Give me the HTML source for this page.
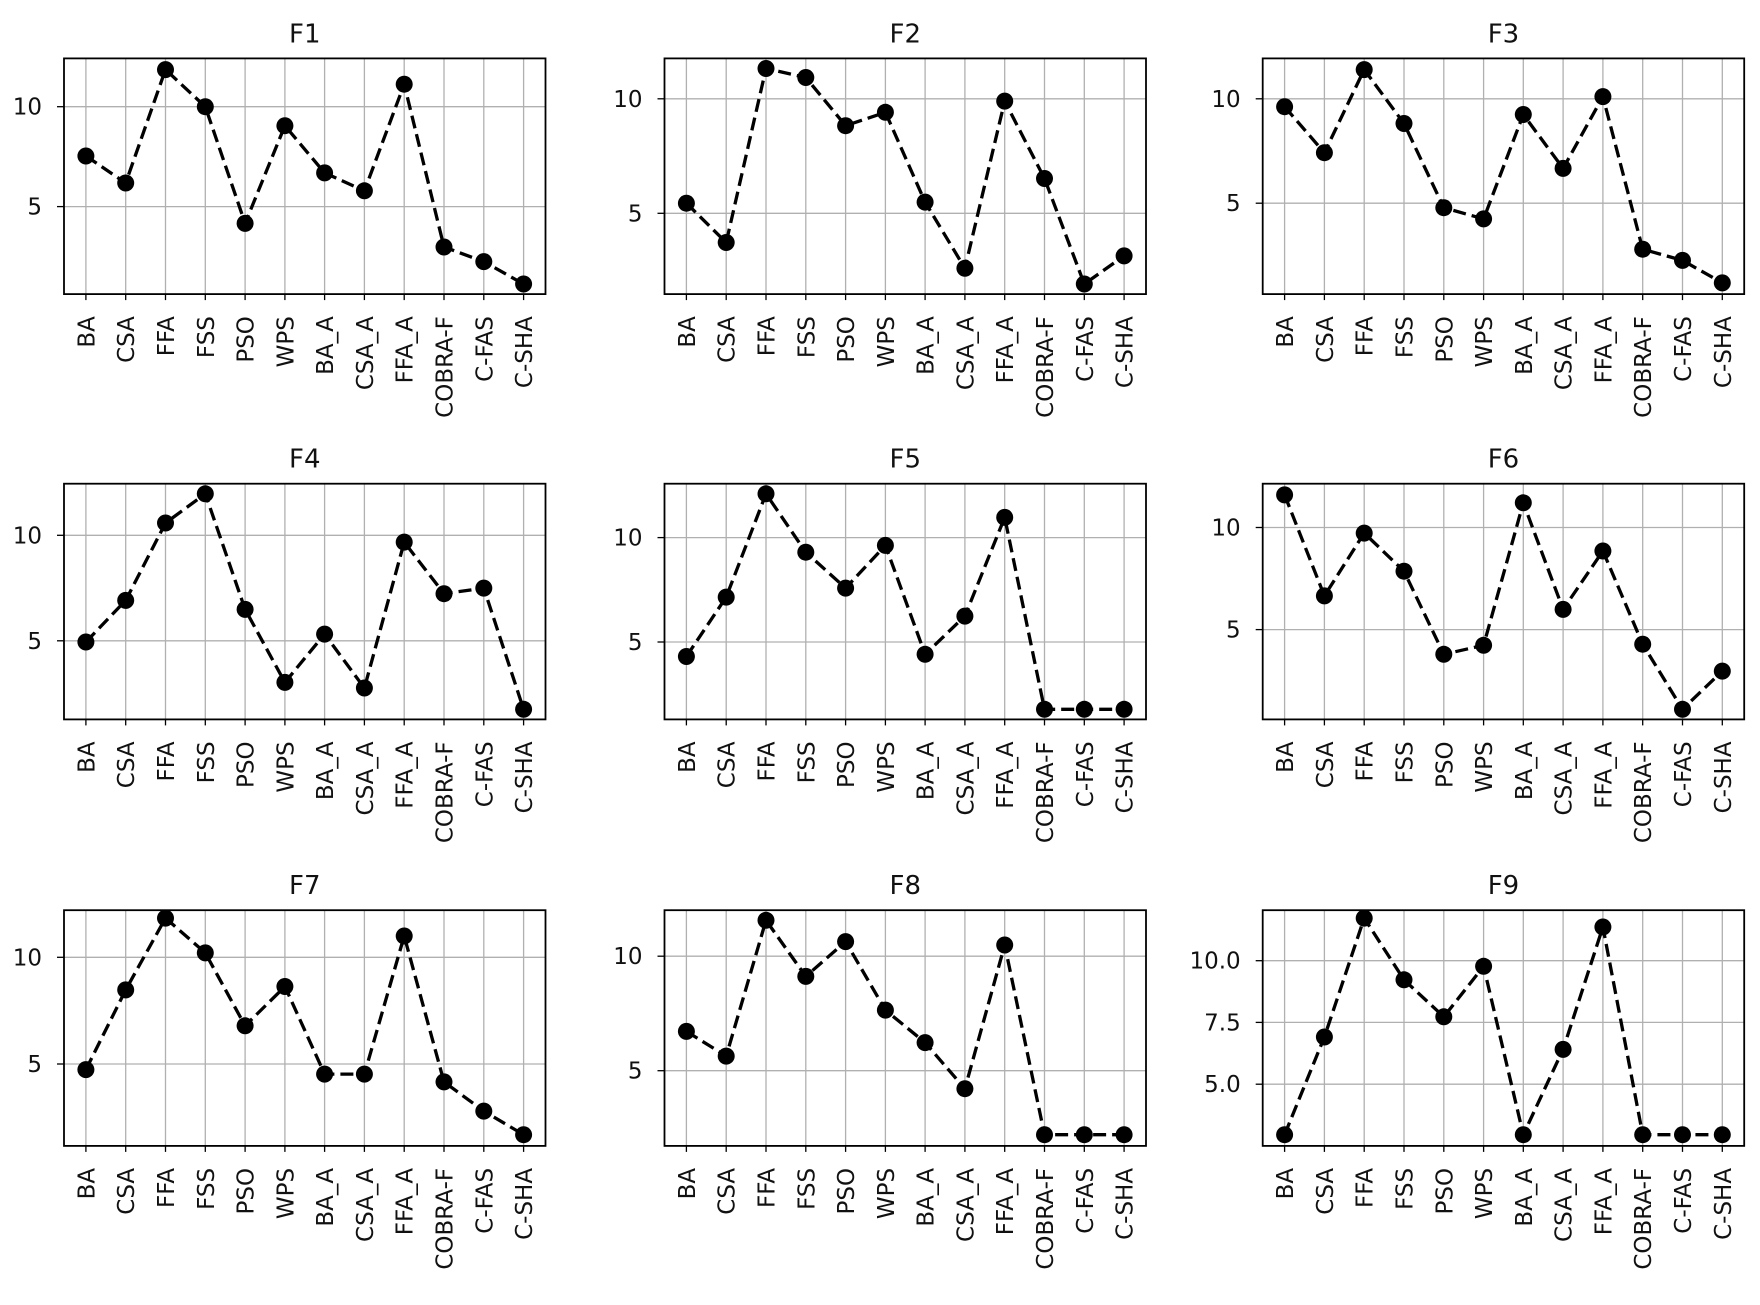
<!DOCTYPE html>
<html><head><meta charset="utf-8"><style>
html,body{margin:0;padding:0;background:#fff;}
svg{display:block;font-family:"DejaVu Sans","Liberation Sans",sans-serif;}
</style></head><body>
<svg id="s" width="1760" height="1305" viewBox="0 0 1760 1305" xmlns="http://www.w3.org/2000/svg">
<rect width="1760" height="1305" fill="#fff"/>
</svg>
<script>
const S=1.1224, W=481.5, H=235.7;
const cols=[64,664.5,1262.7], rows=[58.4,483.7,910.2], rowTopD=[52,431,811];
const labels=["BA","CSA","FFA","FSS","PSO","WPS","BA_A","CSA_A","FFA_A","COBRA-F","C-FAS","C-SHA"];
const P=[
 {t:"F1",ticks:[["10",95],["5",184]],d:[139,163,62,95,199,112,154,170,75,220,233,253]},
 {t:"F2",ticks:[["10",88],["5",190]],d:[181,216,61,69,112,100,180,239,90,159,253,228]},
 {t:"F3",ticks:[["10",88],["5",181]],d:[95,136,62,110,185,195,102,150,86,222,232,252]},
 {t:"F4",ticks:[["10",477],["5",571]],d:[572,535,466,440,543,608,565,613,483,529,524,632]},
 {t:"F5",ticks:[["10",479],["5",572]],d:[585,532,440,492,524,486,583,549,461,632,632,632]},
 {t:"F6",ticks:[["10",470],["5",561]],d:[441,531,475,509,583,575,448,543,491,574,632,598]},
 {t:"F7",ticks:[["10",853],["5",948]],d:[953,882,818,849,914,879,957,957,834,964,990,1011]},
 {t:"F8",ticks:[["10",852],["5",954]],d:[919,941,820,870,839,900,929,970,842,1011,1011,1011]},
 {t:"F9",ticks:[["10.0",856],["7.5",911],["5.0",966]],d:[1011,924,818,873,906,861,1011,935,826,1011,1011,1011]}
];
let out="";
P.forEach((p,k)=>{
 const r=Math.floor(k/3),c=k%3,x0=cols[c],y0=rows[r],rt=rowTopD[r];
 const X=i=>W*(0.55+i)/12.1, Y=v=>(v-rt)*S;
 let g=`<g transform="translate(${x0},${y0})">`;
 for(let i=0;i<12;i++){const x=X(i).toFixed(1);
  g+=`<line x1="${x}" y1="0" x2="${x}" y2="${H}" stroke="#b0b0b0" stroke-width="1.3"/>`;
  g+=`<line x1="${x}" y1="${H}" x2="${x}" y2="${H+6}" stroke="#000" stroke-width="1.3"/>`;
  g+=`<text transform="translate(${(+x+8.5).toFixed(1)},${H+22}) rotate(-90)" text-anchor="end" font-size="23" fill="#111">${labels[i]}</text>`;}
 p.ticks.forEach(([l,py])=>{const y=Y(py).toFixed(1);
  g+=`<line x1="0" y1="${y}" x2="${W}" y2="${y}" stroke="#b0b0b0" stroke-width="1.3"/>`;
  g+=`<line x1="-7" y1="${y}" x2="0" y2="${y}" stroke="#000" stroke-width="1.3"/>`;
  g+=`<text x="-22" y="${(+y+8).toFixed(1)}" text-anchor="end" font-size="23" fill="#111">${l}</text>`;});
 const pts=p.d.map((v,i)=>X(i).toFixed(1)+","+Y(v).toFixed(1)).join(" ");
 g+=`<polyline points="${pts}" fill="none" stroke="#000" stroke-width="3.3" stroke-dasharray="13,6"/>`;
 p.d.forEach((v,i)=>{g+=`<circle cx="${X(i).toFixed(1)}" cy="${Y(v).toFixed(1)}" r="8.5" fill="#000"/>`;});
 g+=`<rect x="0" y="0" width="${W}" height="${H}" fill="none" stroke="#000" stroke-width="1.8"/>`;
 g+=`<text x="${W/2}" y="-16" text-anchor="middle" font-size="26" fill="#111">${p.t}</text></g>`;
 out+=g;
});
document.getElementById("s").insertAdjacentHTML("beforeend",out);
</script>
</body></html>
